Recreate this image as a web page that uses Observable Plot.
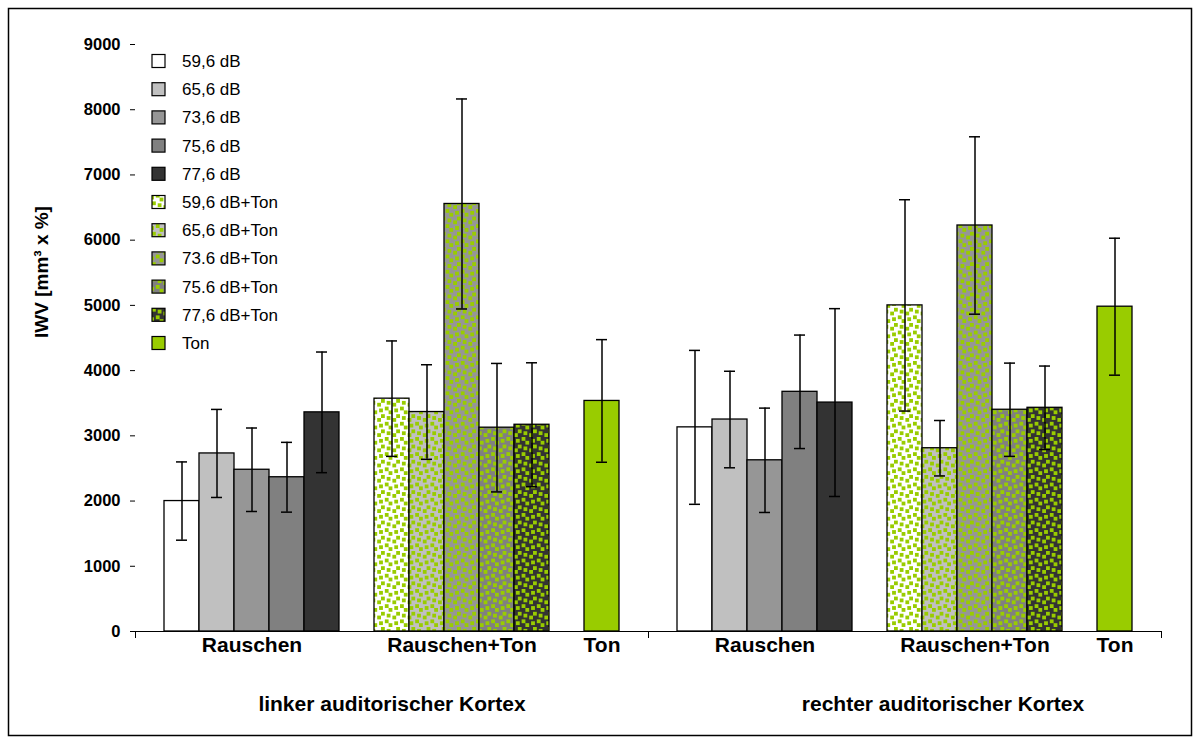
<!DOCTYPE html>
<html>
<head>
<meta charset="utf-8">
<script src="https://cdn.jsdelivr.net/npm/d3@7"></script>
<script src="https://cdn.jsdelivr.net/npm/@observablehq/plot@0.6"></script>
<style>
  body { margin: 0; background: #fff; }
  #chart { position: relative; width: 1200px; height: 744px; }
  #chart svg { display: block; }
</style>
</head>
<body>
<div id="chart"></div>
<script>
// Hemispheres (facets)
const cortices = ["linker auditorischer Kortex", "rechter auditorischer Kortex"];
// Stimulus conditions (one bar each per hemisphere)
const series = [
  "59,6 dB", "65,6 dB", "73,6 dB", "75,6 dB", "77,6 dB",
  "59,6 dB+Ton", "65,6 dB+Ton", "73.6 dB+Ton", "75.6 dB+Ton", "77,6 dB+Ton",
  "Ton"
];
const groupOf = [
  "Rauschen", "Rauschen", "Rauschen", "Rauschen", "Rauschen",
  "Rauschen+Ton", "Rauschen+Ton", "Rauschen+Ton", "Rauschen+Ton", "Rauschen+Ton",
  "Ton"
];
const groupNames = ["Rauschen", "Rauschen+Ton", "Ton"];

// Mean IWV and standard deviation per condition
const meanLeft  = [2000, 2730, 2480, 2365, 3360, 3570, 3365, 6555, 3125, 3170, 3535];
const sdLeft    = [ 600,  675,  640,  535,  925,  885,  725, 1610,  985,  950,  940];
const meanRight = [3130, 3250, 2625, 3675, 3510, 5000, 2810, 6225, 3400, 3430, 4980];
const sdRight   = [1180,  740,  800,  870, 1440, 1620,  425, 1360,  715,  640, 1050];

const yTicks = [0, 1000, 2000, 3000, 4000, 5000, 6000, 7000, 8000, 9000];
const yLabel = "IWV [mm³ x %]";

// Fill styles: grey levels, the same levels overlaid with green confetti, plain green
const green = "#99cc00";
const baseColors = ["#ffffff", "#c0c0c0", "#969696", "#808080", "#333333",
                    "#ffffff", "#c0c0c0", "#969696", "#808080", "#333333", green];
const patterned = [false, false, false, false, false, true, true, true, true, true, false];
const fills = series.map((s, i) => patterned[i] ? `url(#confetti-${i})` : baseColors[i]);

// Band slots: two empty slots separate the three condition groups
const slots = [...series.slice(0, 5), "·1", ...series.slice(5, 10), "·2", series[10]];

const rows = cortices.flatMap((c, ci) => series.map((s, i) => ({
  cortex: c,
  series: s,
  mean: (ci ? meanRight : meanLeft)[i],
  sd: (ci ? sdRight : sdLeft)[i]
})));

// Group labels sit under the middle bar of each group
const groupRows = cortices.flatMap(c => groupNames.map(g => {
  const members = series.filter((s, i) => groupOf[i] === g);
  return {cortex: c, group: g, mid: members[Math.floor(members.length / 2)]};
}));

const font = "'Liberation Sans', Arial, Helvetica, sans-serif";

const chart = Plot.plot({
  width: 1200,
  height: 744,
  marginLeft: 134,
  marginRight: 39,
  marginTop: 44,
  marginBottom: 113,
  style: {fontFamily: font, color: "#000", background: "transparent", overflow: "visible"},
  fx: {domain: cortices, padding: 0, axis: null},
  x: {domain: slots, paddingInner: 0, paddingOuter: 0.72, axis: null},
  y: {domain: [0, 9000], axis: null},
  color: {domain: series, range: fills},
  marks: [
    Plot.barY(rows, {fx: "cortex", x: "series", y: "mean", fill: "series", stroke: "#000", strokeWidth: 1.3, insetLeft: 0, insetRight: 0}),
    Plot.ruleX(rows, {fx: "cortex", x: "series", y1: d => d.mean - d.sd, y2: d => d.mean + d.sd, stroke: "#000", strokeWidth: 1.5}),
    Plot.tickY(rows, {fx: "cortex", x: "series", y: d => d.mean + d.sd, insetLeft: 12, insetRight: 12, stroke: "#000", strokeWidth: 1.5}),
    Plot.tickY(rows, {fx: "cortex", x: "series", y: d => d.mean - d.sd, insetLeft: 12, insetRight: 12, stroke: "#000", strokeWidth: 1.5}),
    Plot.ruleY([0], {stroke: "#000", strokeWidth: 1.2}),
    // category tick marks below the baseline at the facet edges
    Plot.frame({anchor: "left", insetTop: 587, insetBottom: -6, stroke: "#000"}),
    Plot.frame({anchor: "right", insetTop: 587, insetBottom: -6, stroke: "#000"}),
    Plot.axisY({
      ticks: yTicks, tickFormat: d => String(d), tickSize: 5, tickPadding: 10,
      fontSize: 16.5, fontWeight: "bold", label: null, line: true, stroke: "#000"
    }),
    Plot.text(groupRows, {fx: "cortex", x: "mid", text: "group", frameAnchor: "bottom", dy: 20,
      fontSize: 21, fontWeight: "bold", fill: "#000"}),
    Plot.text([cortices[0]], {fx: d => d, text: d => d, frameAnchor: "bottom", dy: 79,
      fontSize: 21, fontWeight: "bold", fill: "#000"}),
    Plot.text([cortices[1]], {fx: d => d, text: d => d, frameAnchor: "bottom", dy: 79, dx: 38,
      fontSize: 21, fontWeight: "bold", fill: "#000"}),
    Plot.text([cortices[0]], {fx: d => d, text: () => yLabel, frameAnchor: "left", rotate: -90, dx: -94,
      fontSize: 19, fontWeight: "bold", fill: "#000"})
  ]
});

document.getElementById("chart").appendChild(chart);

const svg = d3.select(chart);

// Confetti pattern (8x8 cell of 2x2 squares, scaled up)
const cellBlocks = [[4, 0], [7, 7], [-1, 7], [7, -1], [-1, -1], [0, 2], [3, 3], [6, 4], [2, 6]];
const k = 1.9;
const defs = svg.insert("defs", ":first-child");
series.forEach((s, i) => {
  if (!patterned[i]) return;
  const p = defs.append("pattern")
    .attr("id", `confetti-${i}`)
    .attr("patternUnits", "userSpaceOnUse")
    .attr("width", 8 * k).attr("height", 8 * k);
  p.append("rect").attr("width", 8 * k).attr("height", 8 * k).attr("fill", baseColors[i]);
  cellBlocks.forEach(([cx, cy]) => {
    p.append("rect").attr("x", cx * k).attr("y", cy * k)
      .attr("width", 2 * k).attr("height", 2 * k).attr("fill", green);
  });
});

// Legend inside the plot area
const legend = svg.append("g")
  .attr("font-family", font)
  .attr("font-size", 17)
  .attr("text-anchor", "start");
series.forEach((s, i) => {
  const cy = 61 + i * 28.2;
  legend.append("rect").attr("x", 152).attr("y", cy - 6.5).attr("width", 13).attr("height", 13)
    .attr("fill", fills[i]).attr("stroke", "#000").attr("stroke-width", 1.2);
  legend.append("text").attr("x", 182).attr("y", cy).attr("dy", "0.35em").attr("fill", "#000").text(s);
});

// Outer border
svg.append("rect").attr("x", 8.5).attr("y", 8.5).attr("width", 1183).attr("height", 727)
  .attr("fill", "none").attr("stroke", "#000").attr("stroke-width", 1.5);
</script>
</body>
</html>
